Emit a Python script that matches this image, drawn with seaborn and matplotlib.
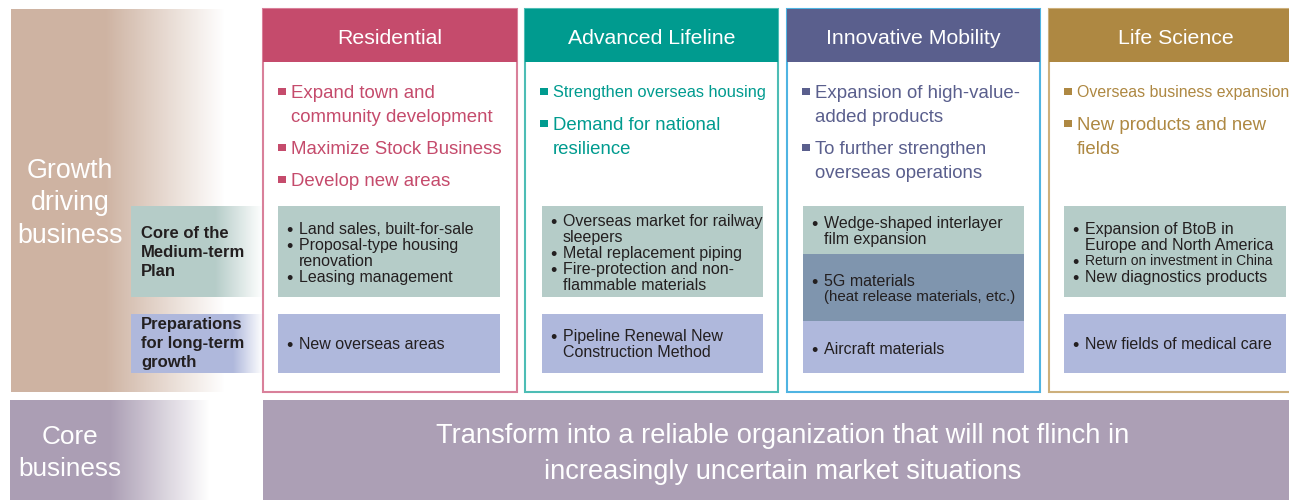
import numpy as np
import matplotlib.pyplot as plt
import seaborn as sns
from matplotlib.patches import Rectangle
from matplotlib.colors import to_rgb

# ---- content ----
segments = ["Residential", "Advanced Lifeline", "Innovative Mobility", "Life Science"]
header_colors = ["#C54B6C", "#009B8F", "#5A5F8D", "#AE8842"]
border_colors = ["#D9809A", "#4DBDB5", "#4FB4E2", "#CDB07C"]

headlines = [
    [["Expand town and", "community development"], ["Maximize Stock Business"], ["Develop new areas"]],
    [["Strengthen overseas housing"], ["Demand for national", "resilience"]],
    [["Expansion of high-value-", "added products"], ["To further strengthen", "overseas operations"]],
    [["Overseas business expansion"], ["New products and new", "fields"]],
]
core_items = [
    [["Land sales, built-for-sale"], ["Proposal-type housing", "renovation"], ["Leasing management"]],
    [["Overseas market for railway", "sleepers"], ["Metal replacement piping"],
     ["Fire-protection and non-", "flammable materials"]],
    [["Wedge-shaped interlayer", "film expansion"]],
    [["Expansion of BtoB in", "Europe and North America"], ["Return on investment in China"],
     ["New diagnostics products"]],
]
mobility_5g_items = [["5G materials", "(heat release materials, etc.)"]]
prep_items = [
    [["New overseas areas"]],
    [["Pipeline Renewal New", "Construction Method"]],
    [["Aircraft materials"]],
    [["New fields of medical care"]],
]
row_labels = [["Core of the", "Medium-term", "Plan"], ["Preparations", "for long-term", "growth"]]
side_titles = [["Growth", "driving", "business"], ["Core", "business"]]
core_message = ["Transform into a reliable organization that will not flinch in",
                "increasingly uncertain market situations"]

# ---- layout ----
col_left = [263, 525, 787, 1049]
col_right = [517, 778, 1040, 1300]
box_left = [278, 542, 803, 1064]
box_right = [500, 763, 1024, 1286]
head_x = [291, 553, 815, 1077]

green = "#B5CCC8"
purple = "#AFB8DC"
steel = "#7F95AE"
dark = "#231F20"

sns.set_theme(style="white")
plt.rcParams['font.family'] = ['Liberation Sans', 'DejaVu Sans']

fig = plt.figure(figsize=(12.89, 5), dpi=100)
ax = fig.add_axes([0, 0, 1, 1])
ax.set_xlim(0, 1289)
ax.set_ylim(500, 0)
ax.axis('off')


def txt(x, y, s, size, color=dark, ha='left', **kw):
    # y is the middle of the capital letters
    px = size * 100 / 72
    ax.text(x, y + 0.358 * px, s, fontsize=size, color=color, ha=ha, va='baseline',
            zorder=4, **kw)


def hgrad(x0, x1, y0, y1, color, solid_until):
    xs = np.linspace(x0, x1, 400)
    a = np.clip((x1 - xs) / (x1 - solid_until), 0, 1)
    c = np.array(to_rgb(color))
    img = a[:, None] * c + (1 - a[:, None]) * np.ones(3)
    ax.imshow(img[None, :, :], extent=(x0, x1, y1, y0), aspect='auto',
              interpolation='nearest', zorder=0)


def bullets(items, left, ycenter, size=11.5, step=16):
    lines = [(j, t) for it in items for j, t in enumerate(it)]
    y = ycenter - step * (len(lines) - 1) / 2
    for j, t in lines:
        fs = size
        if t == "Return on investment in China":
            fs = 10
        if t.startswith("(heat"):
            fs = 10.9
        if j == 0:
            txt(left + 11, y + 1.5, "•", 13, ha='center')
        txt(left + 21, y, t, fs)
        y += step


# side panels
hgrad(11, 225, 9, 392, "#CEB3A2", 105)
for k, line in enumerate(side_titles[0]):
    txt(70, 168 + 32.5 * k, line, 19.3, color='white', ha='center')
hgrad(10, 210, 400, 500, "#AB9EB4", 110)
for k, line in enumerate(side_titles[1]):
    txt(70, 435 + 32 * k, line, 18.8, color='white', ha='center')

# row labels
hgrad(131, 263, 206, 297, green, 215)
hgrad(131, 263, 314, 373, purple, 233)
for k, line in enumerate(row_labels[0]):
    txt(141, 232 + 19 * k, line, 12, fontweight='bold')
for k, line in enumerate(row_labels[1]):
    txt(141, 323 + 19 * k, line, 12, fontweight='bold')

# core business band
ax.add_patch(Rectangle((263, 400), 1289 - 263, 100, color="#AC9FB5", lw=0, zorder=1))
for k, line in enumerate(core_message):
    txt(783, 433.5 + 35.5 * k, line, 19.6, color='white', ha='center')

# segment columns
for c, name in enumerate(segments):
    x0, x1 = col_left[c], col_right[c]
    ax.add_patch(Rectangle((x0, 9), x1 - x0, 383, facecolor='white',
                           edgecolor=border_colors[c], lw=1.5, zorder=1))
    ax.add_patch(Rectangle((x0, 9), x1 - x0, 53, color=header_colors[c], lw=0, zorder=2))
    cx = (x0 + x1) / 2 if c < 3 else 1176
    txt(cx, 36, name, 15.3, color='white', ha='center')

    # headline items
    y = 91
    for item in headlines[c]:
        ax.add_patch(Rectangle((head_x[c] - 13, y - 3.5), 7.5, 7.5, color=header_colors[c],
                               lw=0, zorder=3))
        for t in item:
            fs = 13.4
            if t == "Strengthen overseas housing":
                fs = 11.8
            if t == "Overseas business expansion":
                fs = 11.4
            txt(head_x[c], y, t, fs, color=header_colors[c])
            y += 24
        y += 8

    bl, br = box_left[c], box_right[c]
    if name == "Innovative Mobility":
        ax.add_patch(Rectangle((bl, 206), br - bl, 48, color=green, lw=0, zorder=2))
        ax.add_patch(Rectangle((bl, 254), br - bl, 67, color=steel, lw=0, zorder=2))
        ax.add_patch(Rectangle((bl, 321), br - bl, 52, color=purple, lw=0, zorder=2))
        bullets(core_items[c], bl, 230)
        bullets(mobility_5g_items, bl, 288)
        bullets(prep_items[c], bl, 348)
    else:
        ax.add_patch(Rectangle((bl, 206), br - bl, 91, color=green, lw=0, zorder=2))
        ax.add_patch(Rectangle((bl, 314), br - bl, 59, color=purple, lw=0, zorder=2))
        bullets(core_items[c], bl, 252)
        bullets(prep_items[c], bl, 343)

fig.savefig("out.png", dpi=100)
